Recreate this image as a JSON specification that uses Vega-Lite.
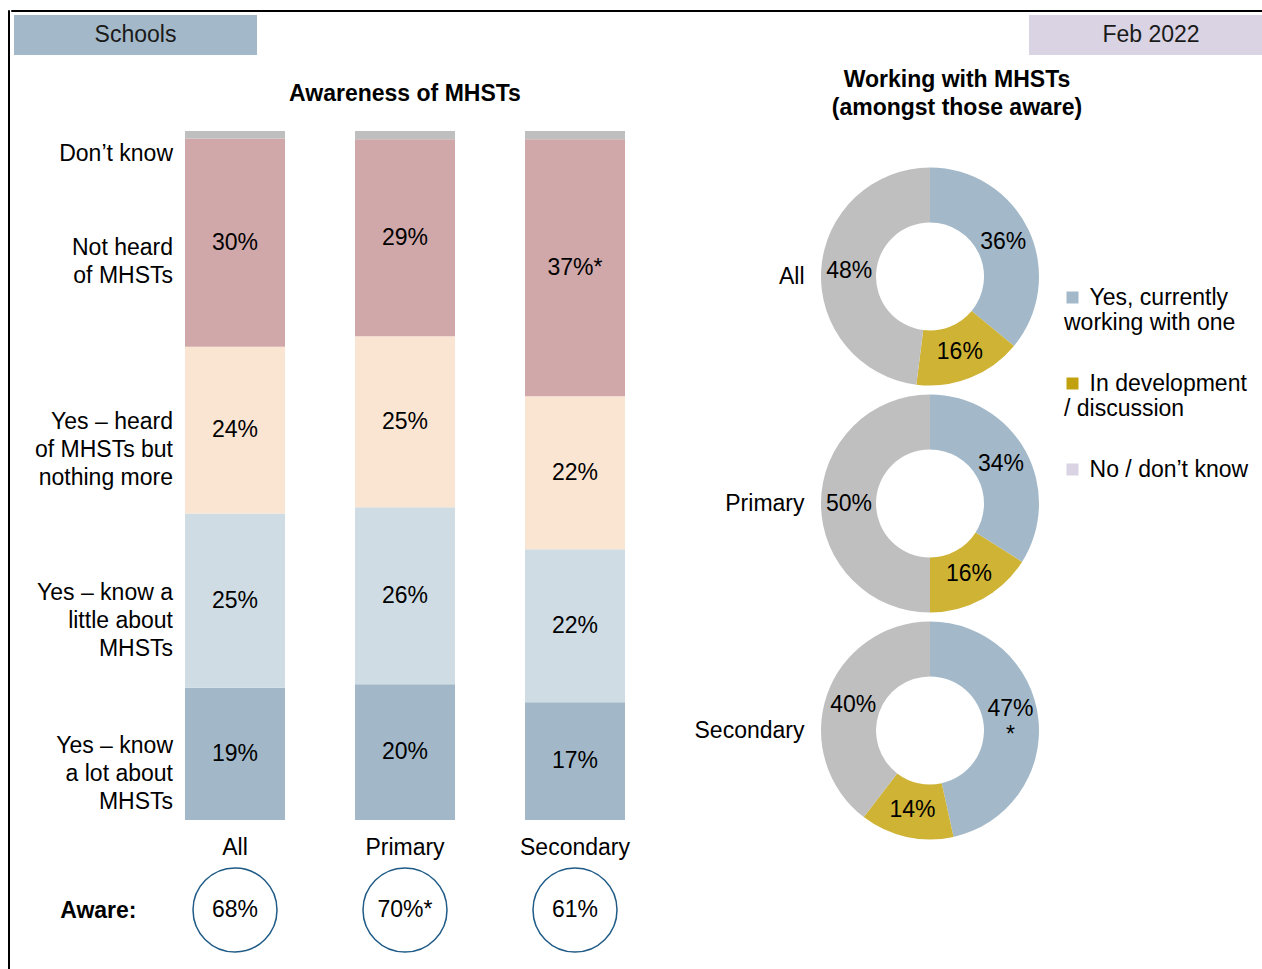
{
  "$schema": "https://vega.github.io/schema/vega-lite/v6.json",
  "padding": {"left": 7, "top": 9, "right": 0, "bottom": 0},
  "background": "#ffffff",
  "config": {
    "font": "Liberation Sans",
    "view": {"stroke": null},
    "text": {"font": "Liberation Sans", "fontSize": 23, "color": "#000000"},
    "axis": {"labelColor": "#000000", "labelFont": "Liberation Sans"},
    "title": {"color": "#000000", "font": "Liberation Sans"},
    "header": {"labelColor": "#000000", "labelFont": "Liberation Sans"},
    "legend": {"labelColor": "#000000", "labelFont": "Liberation Sans"}
  },
  "datasets": {
    "bars": [
      {"group": "All", "answer": "Yes – know\na lot about\nMHSTs", "pct": 19.2, "label": "19%", "k": 1},
      {"group": "All", "answer": "Yes – know a\nlittle about\nMHSTs", "pct": 25.3, "label": "25%", "k": 2},
      {"group": "All", "answer": "Yes – heard\nof MHSTs but\nnothing more", "pct": 24.2, "label": "24%", "k": 3},
      {"group": "All", "answer": "Not heard\nof MHSTs", "pct": 30.2, "label": "30%", "k": 4},
      {"group": "All", "answer": "Don’t know", "pct": 1.1, "label": "", "k": 5},
      {"group": "Primary", "answer": "Yes – know\na lot about\nMHSTs", "pct": 19.7, "label": "20%", "k": 1},
      {"group": "Primary", "answer": "Yes – know a\nlittle about\nMHSTs", "pct": 25.7, "label": "26%", "k": 2},
      {"group": "Primary", "answer": "Yes – heard\nof MHSTs but\nnothing more", "pct": 24.8, "label": "25%", "k": 3},
      {"group": "Primary", "answer": "Not heard\nof MHSTs", "pct": 28.6, "label": "29%", "k": 4},
      {"group": "Primary", "answer": "Don’t know", "pct": 1.2, "label": "", "k": 5},
      {"group": "Secondary", "answer": "Yes – know\na lot about\nMHSTs", "pct": 17.1, "label": "17%", "k": 1},
      {"group": "Secondary", "answer": "Yes – know a\nlittle about\nMHSTs", "pct": 22.2, "label": "22%", "k": 2},
      {"group": "Secondary", "answer": "Yes – heard\nof MHSTs but\nnothing more", "pct": 22.2, "label": "22%", "k": 3},
      {"group": "Secondary", "answer": "Not heard\nof MHSTs", "pct": 37.3, "label": "37%*", "k": 4},
      {"group": "Secondary", "answer": "Don’t know", "pct": 1.2, "label": "", "k": 5}
    ],
    "aware": [
      {"group": "All", "aware": "68%"},
      {"group": "Primary", "aware": "70%*"},
      {"group": "Secondary", "aware": "61%"}
    ],
    "working": [
      {"group": "All", "resp": "Yes, currently working with one", "pct": 36, "label": "36%", "k": 1},
      {"group": "All", "resp": "In development / discussion", "pct": 16, "label": "16%", "k": 2},
      {"group": "All", "resp": "No / don’t know", "pct": 48, "label": "48%", "k": 3},
      {"group": "Primary", "resp": "Yes, currently working with one", "pct": 34, "label": "34%", "k": 1},
      {"group": "Primary", "resp": "In development / discussion", "pct": 16, "label": "16%", "k": 2},
      {"group": "Primary", "resp": "No / don’t know", "pct": 50, "label": "50%", "k": 3},
      {"group": "Secondary", "resp": "Yes, currently working with one", "pct": 47, "label": "47%\n*", "k": 1},
      {"group": "Secondary", "resp": "In development / discussion", "pct": 14, "label": "14%", "k": 2},
      {"group": "Secondary", "resp": "No / don’t know", "pct": 40, "label": "40%", "k": 3}
    ],
    "headerLeft": [{"t": "Schools"}],
    "headerRight": [{"t": "Feb 2022"}],
    "rightTitle": [{"t": "Working with MHSTs\n(amongst those aware)"}],
    "none": []
  },
  "spacing": 0,
  "hconcat": [
    {"width": 1, "height": 962, "view": {"stroke": "#000000", "strokeWidth": 1}, "data": {"name": "none"}, "mark": "text", "encoding": {}},
    {
      "spacing": 3,
      "vconcat": [
        {"width": 1262, "height": 1, "view": {"stroke": "#000000", "strokeWidth": 1}, "data": {"name": "none"}, "mark": "text", "encoding": {}},
        {
          "spacing": 14,
          "vconcat": [
            {
              "spacing": 0,
              "hconcat": [
                {"width": 3, "height": 40, "data": {"name": "none"}, "mark": "text", "encoding": {}},
                {"width": 243, "height": 40, "view": {"fill": "#a3b9c9"}, "data": {"name": "headerLeft"}, "mark": {"type": "text", "fontSize": 23, "color": "#1a1a1a"}, "encoding": {"text": {"field": "t"}}},
                {"width": 772, "height": 40, "data": {"name": "none"}, "mark": "text", "encoding": {}},
                {"width": 244, "height": 40, "view": {"fill": "#d9d3e3"}, "data": {"name": "headerRight"}, "mark": {"type": "text", "fontSize": 23, "color": "#1a1a1a"}, "encoding": {"text": {"field": "t"}}}
              ]
            },
            {
              "spacing": 22,
              "hconcat": [
                {"width": 1, "height": 1, "data": {"name": "none"}, "mark": "text", "encoding": {}},
                {
                  "spacing": 34,
                  "resolve": {"scale": {"color": "independent"}},
                  "hconcat": [
                    {
                      "spacing": 6,
                      "vconcat": [
                        {"width": 1, "height": 7, "data": {"name": "none"}, "mark": "text", "encoding": {}},
                        {
                          "width": 510,
                          "height": 689,
                          "title": {"text": "Awareness of MHSTs", "fontSize": 23, "fontWeight": "bold", "offset": 25, "anchor": "middle"},
                          "data": {"name": "bars"},
                          "encoding": {
                            "x": {"field": "group", "type": "nominal", "sort": ["All", "Primary", "Secondary"], "scale": {"type": "band", "paddingInner": 0.4118, "paddingOuter": 0.2059}, "axis": {"title": null, "labelAngle": 0, "labelFontSize": 23, "labelPadding": 16, "ticks": false, "domain": false}}
                          },
                          "layer": [
                            {
                              "mark": {"type": "bar"},
                              "encoding": {
                                "y": {"field": "pct", "type": "quantitative", "stack": "zero", "scale": {"domain": [0, 100], "nice": false}, "axis": null},
                                "color": {"field": "answer", "type": "nominal", "scale": {"domain": ["Yes – know\na lot about\nMHSTs", "Yes – know a\nlittle about\nMHSTs", "Yes – heard\nof MHSTs but\nnothing more", "Not heard\nof MHSTs", "Don’t know"], "range": ["#a2b8c8", "#cfdce4", "#fae5d3", "#d0a8aa", "#bfbfbf"]}, "legend": null},
                                "order": {"field": "k", "type": "quantitative"}
                              }
                            },
                            {
                              "transform": [
                                {"stack": "pct", "groupby": ["group"], "sort": [{"field": "k", "order": "ascending"}], "as": ["y0", "y1"]},
                                {"fold": ["y0", "y1"], "as": ["edge", "yv"]},
                                {"aggregate": [{"op": "mean", "field": "yv", "as": "ymid"}], "groupby": ["group", "answer", "label"]},
                                {"filter": "datum.label != ''"}
                              ],
                              "mark": {"type": "text", "fontSize": 23, "baseline": "middle"},
                              "encoding": {
                                "y": {"field": "ymid", "type": "quantitative", "axis": null},
                                "text": {"field": "label"}
                              }
                            },
                            {
                              "transform": [
                                {"stack": "pct", "groupby": ["group"], "sort": [{"field": "k", "order": "ascending"}], "as": ["y0", "y1"]},
                                {"fold": ["y0", "y1"], "as": ["edge", "yv"]},
                                {"aggregate": [{"op": "mean", "field": "yv", "as": "ymid"}], "groupby": ["group", "answer"]},
                                {"filter": "datum.group == 'All' && indexof(datum.answer, '\\n') < 0"}
                              ],
                              "mark": {"type": "text", "fontSize": 23, "align": "right", "baseline": "middle", "dx": -62, "dy": 19, "lineBreak": "\n", "lineHeight": 28},
                              "encoding": {
                                "y": {"field": "ymid", "type": "quantitative", "axis": null},
                                "text": {"field": "answer"}
                              }
                            },
                            {
                              "transform": [
                                {"stack": "pct", "groupby": ["group"], "sort": [{"field": "k", "order": "ascending"}], "as": ["y0", "y1"]},
                                {"fold": ["y0", "y1"], "as": ["edge", "yv"]},
                                {"aggregate": [{"op": "mean", "field": "yv", "as": "ymid"}], "groupby": ["group", "answer"]},
                                {"filter": "datum.group == 'All' && length(split(datum.answer, '\\n')) == 2"}
                              ],
                              "mark": {"type": "text", "fontSize": 23, "align": "right", "baseline": "middle", "dx": -62, "dy": 5, "lineBreak": "\n", "lineHeight": 28},
                              "encoding": {
                                "y": {"field": "ymid", "type": "quantitative", "axis": null},
                                "text": {"field": "answer"}
                              }
                            },
                            {
                              "transform": [
                                {"stack": "pct", "groupby": ["group"], "sort": [{"field": "k", "order": "ascending"}], "as": ["y0", "y1"]},
                                {"fold": ["y0", "y1"], "as": ["edge", "yv"]},
                                {"aggregate": [{"op": "mean", "field": "yv", "as": "ymid"}], "groupby": ["group", "answer"]},
                                {"filter": "datum.group == 'All' && length(split(datum.answer, '\\n')) == 3"}
                              ],
                              "mark": {"type": "text", "fontSize": 23, "align": "right", "baseline": "middle", "dx": -62, "dy": -8, "lineBreak": "\n", "lineHeight": 28},
                              "encoding": {
                                "y": {"field": "ymid", "type": "quantitative", "axis": null},
                                "text": {"field": "answer"}
                              }
                            }
                          ]
                        },
                        {
                          "width": 510,
                          "height": 90,
                          "data": {"name": "aware"},
                          "encoding": {
                            "x": {"field": "group", "type": "nominal", "sort": ["All", "Primary", "Secondary"], "scale": {"type": "band", "paddingInner": 0.4118, "paddingOuter": 0.2059}, "axis": null},
                            "y": {"datum": "Aware:", "type": "nominal", "axis": {"title": null, "ticks": false, "domain": false, "labelFontSize": 23, "labelFontWeight": "bold", "labelPadding": 14}}
                          },
                          "layer": [
                            {"mark": {"type": "point", "shape": "circle", "size": 7056, "filled": false, "stroke": "#1f5b86", "strokeWidth": 1.5, "opacity": 1}},
                            {"mark": {"type": "text", "fontSize": 23}, "encoding": {"text": {"field": "aware"}}}
                          ]
                        }
                      ]
                    },
                    {
                      "spacing": 43,
                      "vconcat": [
                        {
                          "width": 284, "height": 50,
                          "data": {"name": "rightTitle"},
                          "mark": {"type": "text", "fontSize": 23, "fontWeight": "bold", "lineBreak": "\n", "lineHeight": 28, "dy": -14},
                          "encoding": {"text": {"field": "t"}}
                        },
                        {
                          "data": {"name": "working"},
                          "spacing": {"row": 0},
                          "resolve": {"scale": {"y": "independent"}},
                          "facet": {
                            "row": {"field": "group", "type": "nominal", "sort": ["All", "Primary", "Secondary"], "title": null, "header": {"labels": false, "title": null}}
                          },
                          "spec": {
                            "width": 230,
                            "height": 227,
                            "encoding": {
                              "theta": {"field": "pct", "type": "quantitative", "stack": true},
                              "order": {"field": "k", "type": "quantitative"},
                              "y": {"field": "group", "type": "nominal", "axis": {"title": null, "ticks": false, "domain": false, "labelFontSize": 23, "labelPadding": 11}}
                            },
                            "layer": [
                              {
                                "mark": {"type": "arc", "innerRadius": 54, "outerRadius": 109, "strokeWidth": 0},
                                "encoding": {
                                  "color": {
                                    "field": "resp", "type": "nominal",
                                    "scale": {"domain": ["Yes, currently working with one", "In development / discussion", "No / don’t know"], "range": ["#a3b9c9", "#cfb335", "#bfbfbf"]},
                                    "legend": null
                                  },
                                  "stroke": {
                                    "field": "resp", "type": "nominal",
                                    "scale": {"domain": ["Yes, currently working with one", "In development / discussion", "No / don’t know"], "range": ["#a3b9c9", "#c2a10e", "#d9d3e3"]},
                                    "legend": {
                                      "orient": "none", "legendX": 1053, "legendY": 276,
                                      "title": null, "symbolType": "square", "symbolSize": 36, "symbolStrokeWidth": 6,
                                      "labelFontSize": 23, "labelLimit": 400, "labelOffset": -20, "rowPadding": 33, "labelBaseline": "middle",
                                      "labelExpr": "datum.label == 'Yes, currently working with one' ? ['\u200b\u00a0\u00a0\u00a0\u00a0Yes, currently', 'working with one'] : datum.label == 'In development / discussion' ? ['\u200b\u00a0\u00a0\u00a0\u00a0In development', '/ discussion'] : '\u200b\u00a0\u00a0\u00a0\u00a0No / don’t know'"
                                    }
                                  }
                                }
                              },
                              {
                                "mark": {"type": "text", "radius": 81, "fontSize": 23, "baseline": "middle"},
                                "encoding": {"text": {"condition": {"test": "indexof(datum.label, '\\n') >= 0", "value": ""}, "field": "label"}, "detail": {"field": "resp"}}
                              },
                              {
                                "mark": {"type": "text", "radius": 81, "fontSize": 23, "baseline": "middle", "lineBreak": "\n", "lineHeight": 26, "dy": -13},
                                "encoding": {"text": {"condition": {"test": "indexof(datum.label, '\\n') < 0", "value": ""}, "field": "label"}, "detail": {"field": "resp"}}
                              }
                            ]
                          }
                        }
                      ]
                    }
                  ]
                }
              ]
            }
          ]
        }
      ]
    }
  ]
}
